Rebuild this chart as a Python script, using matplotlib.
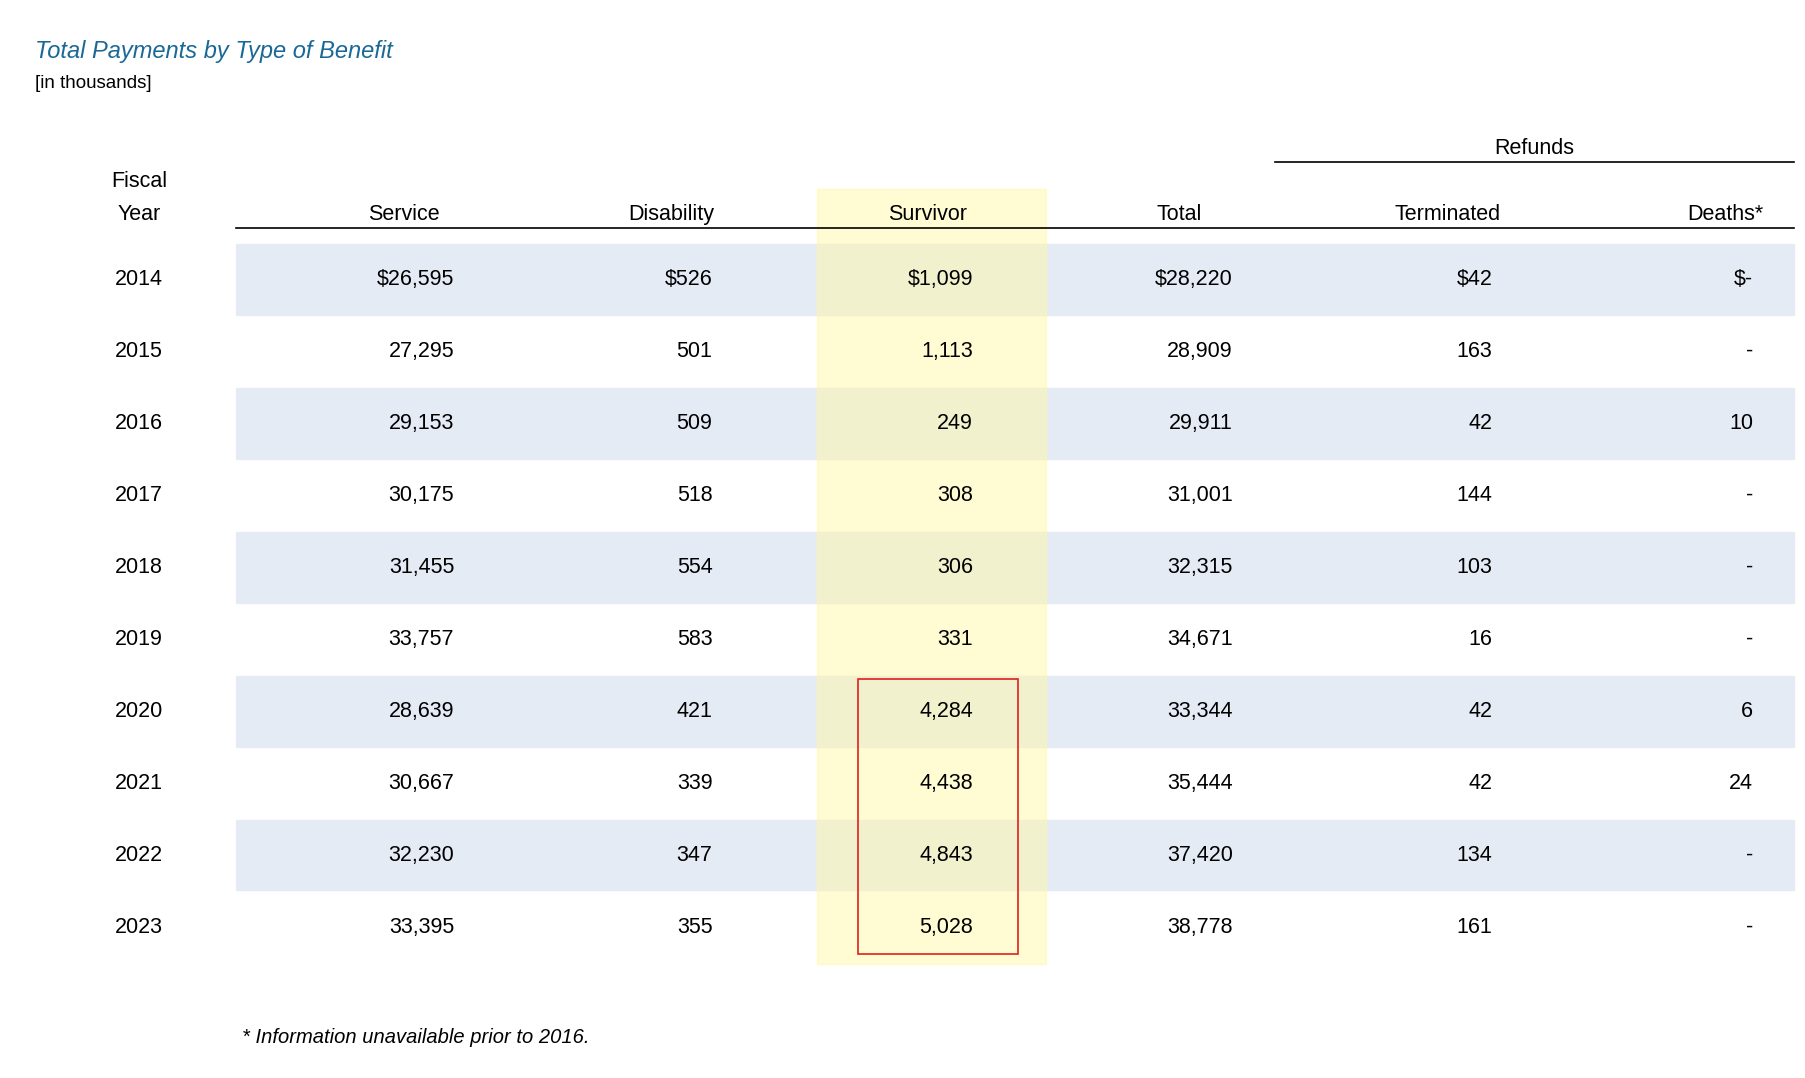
import matplotlib.pyplot as plt
from matplotlib.patches import Rectangle

plt.rcParams['font.family'] = ['Liberation Sans', 'DejaVu Sans']

years = [2014, 2015, 2016, 2017, 2018, 2019, 2020, 2021, 2022, 2023]
service = [26595, 27295, 29153, 30175, 31455, 33757, 28639, 30667, 32230, 33395]
disability = [526, 501, 509, 518, 554, 583, 421, 339, 347, 355]
survivor = [1099, 1113, 249, 308, 306, 331, 4284, 4438, 4843, 5028]
total = [28220, 28909, 29911, 31001, 32315, 34671, 33344, 35444, 37420, 38778]
terminated = [42, 163, 42, 144, 103, 16, 42, 42, 134, 161]
deaths = [None, None, 10, None, None, None, 6, 24, None, None]

headers = ["Service", "Disability", "Survivor", "Total", "Terminated", "Deaths*"]
header_x = [342, 569, 786, 1000, 1227, 1463]
right_x = [385, 604, 825, 1045, 1265, 1486]

W, H = 1531, 914
fig = plt.figure(figsize=(18.06, 10.78), dpi=100)
ax = fig.add_axes([0, 0, 1, 1])
ax.set_xlim(0, W)
ax.set_ylim(H, 0)
ax.axis("off")

fs = 15.5
row_y = [237 + 61 * i for i in range(len(years))]

# banded rows
for i, y in enumerate(row_y):
    if i % 2 == 0:
        ax.add_patch(Rectangle((200, y - 30), 1321, 60, color="#e5ebf4", zorder=0))
# highlighted survivor column
ax.add_patch(Rectangle((693, 160), 194, 657, color="#fff8a8", alpha=0.5, zorder=1))
# red box
ax.add_patch(Rectangle((727, 576), 136, 233, fill=False, ec="#e02020", lw=1.2, zorder=3))

ax.text(30, 44, "Total Payments by Type of Benefit", fontsize=17, style="italic",
        color="#1a6896", va="center")
ax.text(30, 71, "[in thousands]", fontsize=13.5, va="center")

ax.text(118, 154, "Fiscal", fontsize=fs, ha="center", va="center")
ax.text(118, 182, "Year", fontsize=fs, ha="center", va="center")
for h, x in zip(headers, header_x):
    ax.text(x, 182, h, fontsize=fs, ha="center", va="center")
ax.plot([200, 1521], [193, 193], color="black", lw=1.2)
ax.plot([1081, 1521], [137, 137], color="black", lw=1.2)
ax.text(1301, 126, "Refunds", fontsize=fs, ha="center", va="center")

def fmt(v, first):
    if v is None:
        return "$-" if first else "-"
    s = f"{v:,}"
    return "$" + s if first else s

for i, y in enumerate(row_y):
    first = i == 0
    ax.text(118, y, str(years[i]), fontsize=fs, ha="center", va="center")
    vals = [service[i], disability[i], survivor[i], total[i], terminated[i], deaths[i]]
    for v, x in zip(vals, right_x):
        ax.text(x, y, fmt(v, first), fontsize=fs, ha="right", va="center", zorder=4)

ax.text(205, 880, "* Information unavailable prior to 2016.", fontsize=14.5,
        style="italic", va="center")

fig.savefig("out.png")
